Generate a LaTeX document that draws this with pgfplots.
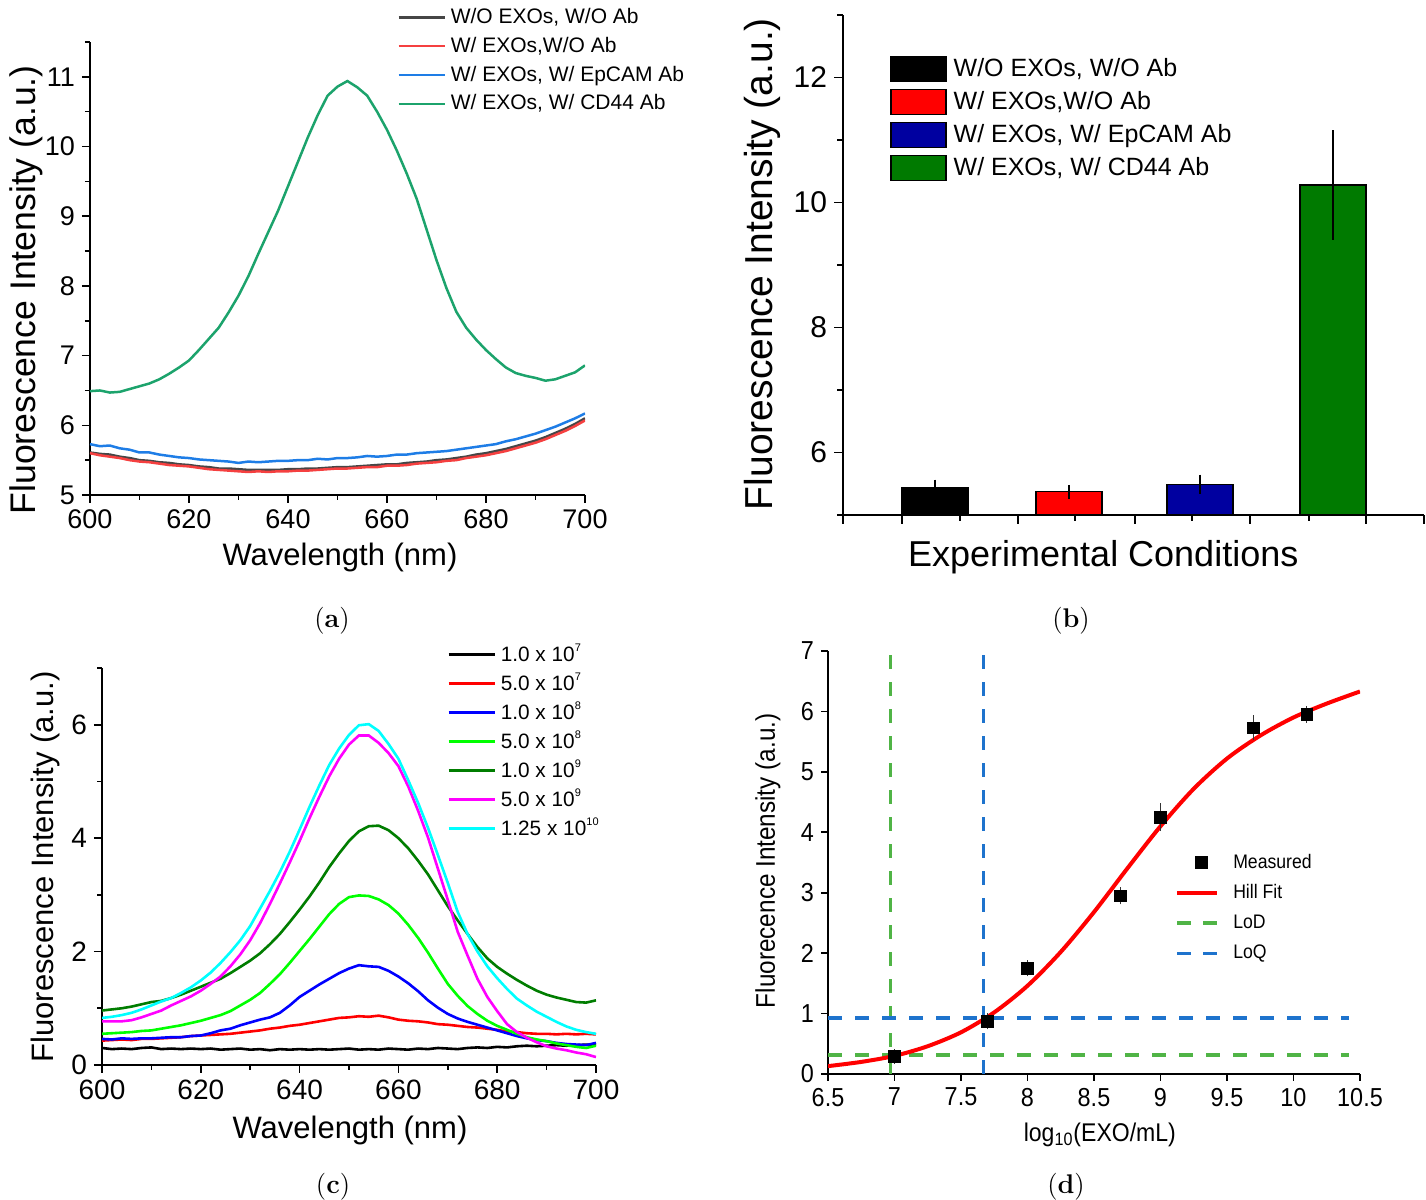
\documentclass[border=0pt]{standalone}
\usepackage{fontspec}
\usepackage{pgfplots}
\usepackage{pgfplotstable}
\pgfplotsset{compat=1.18}
\newfontfamily\arial{Liberation Sans}
\newfontfamily\arialn{Liberation Sans}[FakeStretch=0.9]

% colours of the four panels
\definecolor{aK}{RGB}{70,70,70}
\definecolor{aR}{RGB}{245,64,64}
\definecolor{aB}{RGB}{30,125,230}
\definecolor{aG}{RGB}{28,163,108}
\definecolor{bB}{RGB}{0,0,160}
\definecolor{bG}{RGB}{0,122,0}
\definecolor{cR}{RGB}{255,0,0}
\definecolor{cB}{RGB}{0,0,255}
\definecolor{cG}{RGB}{0,255,0}
\definecolor{cD}{RGB}{0,125,0}
\definecolor{cM}{RGB}{255,0,255}
\definecolor{cC}{RGB}{0,255,255}
\definecolor{lod}{RGB}{80,180,70}
\definecolor{loq}{RGB}{30,115,205}

% (a) spectra: no EXOs/no Ab, EXOs/no Ab, EXOs/EpCAM Ab, EXOs/CD44 Ab
\pgfplotstableread{
nm  k    r    b    g
600 5.61 5.60 5.73 6.49
602 5.59 5.57 5.70 6.50
604 5.58 5.55 5.71 6.47
606 5.55 5.53 5.67 6.48
608 5.53 5.50 5.65 6.52
610 5.50 5.48 5.61 6.56
612 5.49 5.47 5.61 6.60
614 5.47 5.45 5.58 6.66
616 5.46 5.43 5.56 6.74
618 5.44 5.42 5.54 6.83
620 5.43 5.41 5.53 6.93
622 5.41 5.39 5.51 7.08
624 5.40 5.37 5.50 7.24
626 5.38 5.36 5.49 7.40
628 5.38 5.35 5.48 7.62
630 5.37 5.34 5.46 7.86
632 5.36 5.33 5.48 8.14
634 5.36 5.34 5.47 8.46
636 5.36 5.33 5.48 8.77
638 5.36 5.34 5.49 9.08
640 5.37 5.34 5.49 9.43
642 5.37 5.35 5.50 9.78
644 5.38 5.35 5.50 10.13
646 5.38 5.36 5.52 10.45
648 5.39 5.37 5.51 10.73
650 5.40 5.38 5.53 10.86
652 5.40 5.38 5.53 10.94
654 5.41 5.39 5.54 10.85
656 5.42 5.40 5.56 10.73
658 5.43 5.40 5.55 10.50
660 5.44 5.42 5.56 10.24
662 5.44 5.42 5.58 9.94
664 5.46 5.43 5.58 9.61
666 5.47 5.45 5.60 9.25
668 5.48 5.46 5.61 8.81
670 5.50 5.47 5.62 8.37
672 5.51 5.49 5.63 7.97
674 5.53 5.50 5.65 7.63
676 5.55 5.53 5.67 7.40
678 5.58 5.55 5.69 7.23
680 5.60 5.57 5.71 7.08
682 5.63 5.60 5.73 6.95
684 5.66 5.63 5.77 6.83
686 5.70 5.67 5.80 6.75
688 5.74 5.71 5.84 6.71
690 5.78 5.75 5.88 6.68
692 5.83 5.80 5.93 6.64
694 5.89 5.86 5.98 6.66
696 5.95 5.92 6.04 6.71
698 6.02 5.99 6.10 6.76
700 6.10 6.07 6.17 6.86
}\tabA

% (c) spectra for increasing EXO concentrations
\pgfplotstableread{
nm  c1   c2   c3   c4   c5   c6   c7
600 0.30 0.43 0.46 0.55 0.96 0.77 0.83
602 0.28 0.44 0.45 0.56 0.98 0.77 0.85
604 0.29 0.45 0.47 0.57 1.00 0.77 0.88
606 0.28 0.44 0.46 0.58 1.03 0.79 0.92
608 0.30 0.46 0.47 0.60 1.07 0.84 0.98
610 0.31 0.46 0.47 0.61 1.11 0.90 1.05
612 0.28 0.47 0.48 0.64 1.13 0.96 1.12
614 0.29 0.48 0.49 0.67 1.18 1.05 1.18
616 0.28 0.49 0.49 0.70 1.24 1.13 1.27
618 0.29 0.51 0.51 0.74 1.31 1.21 1.37
620 0.28 0.52 0.52 0.78 1.38 1.31 1.49
622 0.29 0.53 0.56 0.83 1.45 1.43 1.63
624 0.27 0.54 0.61 0.88 1.52 1.56 1.80
626 0.28 0.55 0.64 0.95 1.62 1.74 1.99
628 0.29 0.57 0.70 1.05 1.73 1.95 2.20
630 0.27 0.59 0.75 1.15 1.84 2.20 2.45
632 0.28 0.61 0.80 1.27 1.97 2.50 2.76
634 0.26 0.64 0.84 1.43 2.13 2.84 3.07
636 0.28 0.66 0.92 1.60 2.31 3.20 3.40
638 0.27 0.69 1.05 1.80 2.52 3.57 3.76
640 0.28 0.71 1.20 2.01 2.74 3.95 4.15
642 0.27 0.74 1.31 2.22 2.97 4.35 4.55
644 0.28 0.77 1.42 2.44 3.22 4.73 4.93
646 0.27 0.80 1.52 2.66 3.49 5.09 5.29
648 0.28 0.83 1.62 2.84 3.73 5.40 5.58
650 0.29 0.84 1.70 2.96 3.95 5.65 5.82
652 0.27 0.86 1.76 2.99 4.12 5.81 5.99
654 0.28 0.85 1.74 2.98 4.21 5.81 6.01
656 0.27 0.87 1.73 2.92 4.22 5.68 5.89
658 0.29 0.84 1.66 2.82 4.14 5.50 5.66
660 0.28 0.80 1.56 2.67 4.00 5.27 5.40
662 0.27 0.78 1.44 2.47 3.82 4.91 5.02
664 0.29 0.77 1.30 2.24 3.60 4.48 4.62
666 0.28 0.75 1.14 1.98 3.36 4.01 4.18
668 0.30 0.72 1.01 1.70 3.08 3.46 3.70
670 0.29 0.71 0.90 1.43 2.80 2.91 3.21
672 0.28 0.69 0.82 1.22 2.55 2.35 2.70
674 0.30 0.67 0.76 1.04 2.31 1.93 2.31
676 0.31 0.66 0.71 0.90 2.08 1.52 2.00
678 0.30 0.64 0.66 0.78 1.88 1.20 1.74
680 0.32 0.62 0.61 0.69 1.73 0.95 1.53
682 0.31 0.59 0.56 0.62 1.61 0.72 1.34
684 0.33 0.58 0.51 0.55 1.50 0.58 1.17
686 0.34 0.56 0.47 0.49 1.40 0.48 1.05
688 0.33 0.55 0.44 0.45 1.31 0.40 0.94
690 0.34 0.55 0.42 0.42 1.24 0.33 0.85
692 0.35 0.54 0.39 0.38 1.19 0.29 0.76
694 0.34 0.55 0.37 0.35 1.15 0.26 0.68
696 0.35 0.54 0.36 0.32 1.11 0.22 0.62
698 0.36 0.55 0.35 0.30 1.10 0.19 0.58
700 0.36 0.54 0.39 0.34 1.14 0.14 0.55
}\tabC

% (d) Hill fit of the calibration
\pgfplotstableread{
lx    f
6.50  0.13
6.75  0.20
7.00  0.30
7.25  0.46
7.50  0.69
7.75  1.02
8.00  1.46
8.25  2.02
8.50  2.68
8.75  3.40
9.00  4.10
9.25  4.72
9.50  5.22
9.75  5.60
10.00 5.90
10.25 6.13
10.50 6.33
}\tabFit

\pgfplotsset{
  panel/.style={
    scale only axis, axis lines=left,
    axis line style={-, line width=0.9pt},
    tick align=outside, major tick length=4pt, minor tick length=2.5pt,
    every tick/.append style={black, line width=0.8pt},
    /pgf/number format/assume math mode=true,
    legend cell align=left,
  },
  leg/.style 2 args={legend style={at={#1}, anchor=north west, draw=none, fill=none,
    inner sep=0pt, column sep=0pt, row sep=0pt, font=#2,
    nodes={inner sep=0pt}}},
  % legend keys
  sline/.style={legend image code/.code={\draw[##1] (0pt,0pt) -- (23pt,0pt); \path (25.5pt,0pt);}},
  dline/.style={legend image code/.code={\draw[##1] (0pt,0pt) -- (20pt,0pt); \path (27pt,0pt);}},
  dmark/.style={legend image code/.code={\draw[##1] plot coordinates {(12pt,0pt)}; \path (0pt,0pt) (27pt,0pt);}},
  bleg/.style={draw=black, line width=0.6pt, fill=#1,
    legend image code/.code={\draw[##1] (0pt,-6.25pt) rectangle (27.5pt,6.25pt); \path (31pt,0pt);}},
}
\newcommand\sups[1]{\raisebox{0.95ex}{\fontsize{5.5}{6}\selectfont #1}}

\begin{document}
\begin{tikzpicture}
\useasboundingbox (0pt,0pt) rectangle (713pt,600pt);

% ---------------- (a) ----------------
\begin{axis}[panel, at={(45pt,352.5pt)}, anchor=south west,
  width=247.5pt, height=226.5pt,
  xmin=600, xmax=700, ymin=5, ymax=11.5,
  xtick={600,620,...,700}, minor xtick={610,630,...,690},
  ytick={5,...,11}, minor ytick={5.5,6.5,...,11.5},
  tick label style={font=\fontsize{13.5}{15}\arial},
  xlabel={Wavelength (nm)}, ylabel={Fluorescence Intensity (a.u.)},
  xlabel style={font=\fontsize{15.5}{18}\arial, at={(axis description cs:0.505,-0.137)}, anchor=center},
  ylabel style={font=\fontsize{17.8}{20}\arial, at={(axis description cs:-0.129,0.453)}, anchor=center},
  leg={(0.620,1.087)}{\fontsize{10.5}{12}\arial},
  legend style={nodes={minimum height=14.4pt}},
  sline,
]
\addplot[aK, line width=1.25pt] table[x=nm, y=k] {\tabA};
\addlegendentry{W/O EXOs, W/O Ab}
\addplot[aR, line width=1.25pt] table[x=nm, y=r] {\tabA};
\addlegendentry{W/ EXOs,W/O Ab}
\addplot[aB, line width=1.25pt] table[x=nm, y=b] {\tabA};
\addlegendentry{W/ EXOs, W/ EpCAM Ab}
\addplot[aG, line width=1.25pt] table[x=nm, y=g] {\tabA};
\addlegendentry{W/ EXOs, W/ CD44 Ab}
\end{axis}

% ---------------- (b) ----------------
\begin{axis}[panel, at={(421.5pt,342.5pt)}, anchor=south west,
  width=290.5pt, height=250pt,
  xmin=843, xmax=1424, ymin=5, ymax=13,
  xtick={843,902,1018,1135,1250,1366,1424}, xticklabels={},
  minor xtick={960,1075,1192,1309},
  major tick length=4.5pt, minor tick length=3pt,
  ytick={6,8,10,12}, minor ytick={5,7,9,11,13},
  tick label style={font=\fontsize{15}{17}\arial},
  xlabel={Experimental Conditions}, ylabel={Fluorescence Intensity (a.u.)},
  xlabel style={font=\fontsize{18}{20}\arial, at={(axis description cs:0.448,-0.084)}, anchor=center},
  ylabel style={font=\fontsize{19.5}{22}\arial, at={(axis description cs:-0.139,0.502)}, anchor=center},
  leg={(0.081,0.925)}{\fontsize{12.5}{14}\arial},
  legend style={nodes={minimum height=16.5pt}},
  bars/.style={ybar, bar width=66, bar shift=0pt, draw=black, line width=0.6pt, forget plot,
    error bars/.cd, y dir=both, y explicit,
    error bar style={black, line width=0.7pt},
    error mark options={black, line width=0.7pt, mark size=2.4pt}},
]
\addplot[fill=black, bars] coordinates {(935,5.44) +- (0,0.05)};
\addplot[fill=red, bars] coordinates {(1069,5.37) +- (0,0.035)};
\addplot[fill=bB, bars] coordinates {(1200,5.49) +- (0,0.08)};
\addplot[fill=bG, bars] coordinates {(1333,10.28) +- (0,0.80)};
\addlegendimage{bleg=black}
\addlegendentry{W/O EXOs, W/O Ab}
\addlegendimage{bleg=red}
\addlegendentry{W/ EXOs,W/O Ab}
\addlegendimage{bleg=bB}
\addlegendentry{W/ EXOs, W/ EpCAM Ab}
\addlegendimage{bleg=bG}
\addlegendentry{W/ EXOs, W/ CD44 Ab}
\end{axis}

% ---------------- (c) ----------------
\begin{axis}[panel, at={(51pt,67.5pt)}, anchor=south west,
  width=247pt, height=198.5pt,
  xmin=600, xmax=700, ymin=0, ymax=7,
  xtick={600,620,...,700}, minor xtick={610,630,...,690},
  ytick={0,2,4,6}, minor ytick={1,3,5,7},
  tick label style={font=\fontsize{14}{16}\arial},
  xlabel={Wavelength (nm)}, ylabel={Fluorescence Intensity (a.u.)},
  xlabel style={font=\fontsize{15.5}{18}\arial, at={(axis description cs:0.502,-0.166)}, anchor=center},
  ylabel style={font=\fontsize{15.5}{18}\arial, at={(axis description cs:-0.115,0.499)}, anchor=center},
  leg={(0.698,1.072)}{\fontsize{10.4}{12}\arial},
  legend style={nodes={minimum height=14.5pt}},
  sline,
]
\addplot[black, line width=1.3pt] table[x=nm, y=c1] {\tabC};
\addlegendentry{1.0 x 10\sups{7}}
\addplot[cR, line width=1.3pt] table[x=nm, y=c2] {\tabC};
\addlegendentry{5.0 x 10\sups{7}}
\addplot[cB, line width=1.3pt] table[x=nm, y=c3] {\tabC};
\addlegendentry{1.0 x 10\sups{8}}
\addplot[cG, line width=1.3pt] table[x=nm, y=c4] {\tabC};
\addlegendentry{5.0 x 10\sups{8}}
\addplot[cD, line width=1.3pt] table[x=nm, y=c5] {\tabC};
\addlegendentry{1.0 x 10\sups{9}}
\addplot[cM, line width=1.3pt] table[x=nm, y=c6] {\tabC};
\addlegendentry{5.0 x 10\sups{9}}
\addplot[cC, line width=1.3pt] table[x=nm, y=c7] {\tabC};
\addlegendentry{1.25 x 10\sups{10}}
\end{axis}

% ---------------- (d) ----------------
\begin{axis}[panel, at={(414pt,63pt)}, anchor=south west,
  width=266pt, height=211.5pt,
  xmin=6.5, xmax=10.5, ymin=0, ymax=7,
  xtick={6.5,7,...,10.5}, ytick={0,...,7},
  major tick length=3.5pt,
  axis line style={-, line width=0.8pt},
  tick label style={font=\fontsize{13}{15}\arialn},
  xlabel={log\textsubscript{10}(EXO/mL)}, ylabel={Fluorecence Intensity (a.u.)},
  xlabel style={font=\fontsize{12.8}{14}\arialn, at={(axis description cs:0.511,-0.144)}, anchor=center},
  ylabel style={font=\fontsize{13.5}{15}\arialn, at={(axis description cs:-0.113,0.504)}, anchor=center},
  leg={(0.652,0.537)}{\fontsize{9.8}{12}\arialn},
  legend style={nodes={minimum height=15.2pt}},
  lim/.style={line width=1.8pt, dash pattern=on 7pt off 6.5pt, forget plot},
]
% detection and quantification limits
\addplot[lod, lim] coordinates {(6.97,0) (6.97,7)};
\addplot[lod, lim] coordinates {(6.5,0.31) (10.42,0.31)};
\addplot[loq, lim] coordinates {(7.67,0) (7.67,7)};
\addplot[loq, lim] coordinates {(6.5,0.93) (10.42,0.93)};
\addplot[red, line width=2pt, smooth, forget plot] table[x=lx, y=f] {\tabFit};
\addplot[only marks, mark=square*, mark size=2.9pt, black, forget plot,
  error bars/.cd, y dir=both, y explicit,
  error bar style={black!80, line width=0.6pt},
  error mark options={black!80, line width=0.6pt, mark size=2.5pt}]
  coordinates {
  (7,0.29) +- (0,0.04)
  (7.7,0.87) +- (0,0.05)
  (8,1.75) +- (0,0.05)
  (8.7,2.95) +- (0,0.06)
  (9,4.25) +- (0,0.15)
  (9.7,5.73) +- (0,0.12)
  (10.1,5.95) +- (0,0.06)
  };
\addlegendimage{only marks, mark=square*, mark size=3pt, black, dmark}
\addlegendentry{Measured}
\addlegendimage{red, line width=2pt, dline}
\addlegendentry{Hill Fit}
\addlegendimage{lod, line width=1.8pt, dash pattern=on 7pt off 6pt, dline}
\addlegendentry{LoD}
\addlegendimage{loq, line width=1.8pt, dash pattern=on 7pt off 6pt, dline}
\addlegendentry{LoQ}
\end{axis}

% panel captions
\node[font=\fontsize{13.5}{15}\selectfont] at (166pt,289.5pt) {(\textbf{a})};
\node[font=\fontsize{13.5}{15}\selectfont] at (535.5pt,289.5pt) {(\textbf{b})};
\node[font=\fontsize{13.5}{15}\selectfont] at (166.5pt,6.5pt) {(\textbf{c})};
\node[font=\fontsize{13.5}{15}\selectfont] at (533pt,6.5pt) {(\textbf{d})};
\end{tikzpicture}
\end{document}
